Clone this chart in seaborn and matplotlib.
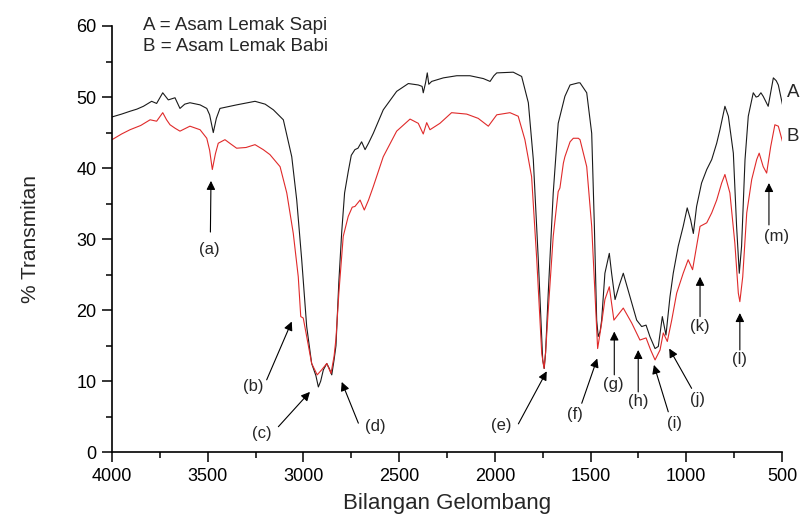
import numpy as np
import pandas as pd
import matplotlib
matplotlib.use("Agg")
import matplotlib.pyplot as plt
from matplotlib.ticker import MultipleLocator
import seaborn as sns

# ---- data ----
wn_A = [4000, 3950, 3906, 3870, 3836, 3793, 3767, 3735, 3706, 3671, 3645, 3620, 3593, 3540,
        3505, 3490, 3471, 3455, 3436, 3349, 3253, 3200, 3157, 3105, 3061, 3035, 3009, 2983,
        2957, 2935, 2922, 2910, 2896, 2878, 2865, 2852, 2840, 2830, 2815, 2800, 2785, 2766,
        2750, 2731, 2715, 2696, 2678, 2660, 2635, 2583, 2513, 2452, 2400, 2380, 2374, 2362,
        2353, 2345, 2330, 2269, 2199, 2130, 2060, 2025, 2005, 1990, 1904, 1860, 1825, 1799,
        1773, 1750, 1742, 1735, 1721, 1695, 1669, 1634, 1607, 1564, 1555, 1520, 1494, 1480,
        1468, 1460, 1450, 1442, 1425, 1410, 1402, 1390, 1372, 1350, 1329, 1294, 1259, 1233,
        1210, 1190, 1163, 1146, 1125, 1106, 1085, 1068, 1042, 1016, 995, 977, 963, 946, 920,
        893, 867, 841, 824, 798, 780, 754, 737, 723, 711, 693, 676, 650, 635, 624, 610, 598,
        572, 545, 530, 519, 497]
tr_A = [47.2, 47.6, 48.0, 48.3, 48.7, 49.4, 49.1, 50.6, 49.6, 49.9, 48.4, 49.0, 49.2, 48.9,
        48.4, 47.5, 45.0, 47.0, 48.4, 48.9, 49.4, 49.0, 48.2, 46.8, 41.6, 35.5, 27.1, 17.7,
        12.5, 10.8, 9.2, 10.0, 11.6, 12.5, 11.8, 10.9, 13.0, 15.0, 24.0, 31.0, 36.5, 39.5,
        41.8, 42.6, 42.8, 43.7, 42.6, 43.5, 44.9, 48.2, 50.8, 51.9, 51.7, 51.5, 50.6, 52.0,
        53.4, 51.8, 52.2, 52.7, 53.0, 53.0, 52.6, 52.2, 53.0, 53.4, 53.5, 52.9, 49.2, 41.2,
        27.1, 13.0, 11.8, 14.0, 22.4, 36.5, 46.3, 50.1, 51.7, 52.0, 52.0, 50.6, 44.9, 31.8,
        18.6, 16.3, 17.0, 18.6, 25.2, 27.0, 28.0, 25.2, 21.5, 23.5, 25.2, 21.9, 18.6, 17.7,
        17.9, 16.3, 14.6, 14.9, 19.1, 16.5, 21.9, 25.2, 29.0, 31.8, 34.4, 32.7, 30.8, 34.6, 37.9,
        39.8, 41.2, 43.5, 45.4, 48.7, 47.3, 42.1, 31.8, 25.2, 29.0, 41.2, 47.3, 50.6, 50.0, 50.1, 50.6, 50.1,
        48.7, 52.7, 52.3, 51.7, 48.9]

wn_B = [4000, 3950, 3906, 3850, 3801, 3767, 3735, 3715, 3697, 3670, 3645, 3593, 3540, 3505,
        3490, 3476, 3460, 3445, 3410, 3380, 3349, 3300, 3253, 3210, 3175, 3122, 3087, 3053,
        3027, 3014, 3001, 2983, 2957, 2928, 2905, 2878, 2856, 2840, 2830, 2815, 2792, 2766,
        2745, 2731, 2704, 2682, 2660, 2635, 2583, 2513, 2443, 2400, 2374, 2356, 2339, 2287,
        2226, 2147, 2087, 2034, 1990, 1921, 1878, 1843, 1808, 1781, 1755, 1743, 1735, 1721,
        1695, 1669, 1660, 1642, 1634, 1607, 1590, 1564, 1555, 1520, 1494, 1477, 1463, 1442,
        1425, 1402, 1378, 1329, 1285, 1242, 1210, 1186, 1163, 1137, 1120, 1099, 1076, 1050,
        1016, 990, 967, 946, 928, 893, 867, 841, 815, 798, 772, 746, 728, 720, 705, 684, 658,
        632, 619, 598, 580, 559, 537, 519, 497]
tr_B = [44.0, 44.8, 45.4, 46.0, 46.8, 46.6, 47.8, 46.8, 46.1, 45.6, 45.2, 45.9, 45.4, 44.2,
        42.5, 39.8, 42.0, 43.5, 44.0, 43.4, 42.8, 42.9, 43.3, 42.6, 41.9, 40.2, 36.5, 30.8,
        24.7, 19.1, 18.9, 16.3, 12.5, 10.9, 11.6, 12.5, 11.1, 13.5, 16.0, 22.4, 30.4, 33.2,
        34.5, 34.6, 35.5, 34.1, 35.5, 37.4, 41.6, 45.2, 46.9, 46.3, 44.8, 46.4, 45.4, 46.3,
        47.8, 47.6, 47.0, 45.9, 47.5, 47.8, 47.3, 44.0, 38.8, 27.1, 13.9, 11.8, 14.0, 20.0,
        30.4, 36.7, 37.2, 40.7, 41.6, 43.7, 44.2, 44.2, 44.0, 40.2, 31.8, 22.4, 14.6, 18.2,
        21.5, 23.3, 18.6, 20.3, 18.2, 15.8, 16.1, 14.4, 13.0, 14.4, 16.8, 15.6, 18.6, 22.4,
        25.2, 27.1, 25.7, 29.0, 31.8, 32.3, 33.7, 35.5, 37.9, 39.1, 36.5, 29.4, 22.4, 21.2, 24.7, 33.7, 38.4,
        41.2, 42.1, 40.2, 39.3, 43.0, 46.1, 45.9, 43.7]

series_names = ["A", "B"]
legend_lines = ["A = Asam Lemak Sapi", "B = Asam Lemak Babi"]

peak_labels = ["(a)", "(b)", "(c)", "(d)", "(e)", "(f)", "(g)", "(h)", "(i)", "(j)", "(k)", "(l)", "(m)"]
tip_x  = [3483, 3061, 2966, 2800, 1729, 1465, 1376, 1251, 1169, 1089, 928, 720, 568]
tip_y  = [38.2, 18.4, 8.5, 9.9, 11.4, 13.2, 17.0, 14.4, 12.3, 14.6, 24.7, 19.6, 37.9]
tail_x = [3486, 3192, 3131, 2713, 1877, 1546, 1376, 1251, 1094, 972, 928, 720, 568]
tail_y = [31.0, 10.2, 3.6, 4.1, 4.0, 6.9, 10.9, 8.5, 5.7, 9.0, 19.1, 14.4, 32.0]
text_x = [3490, 3262, 3218, 2626, 1964, 1581, 1381, 1251, 1063, 940, 930, 720, 528]
text_y = [28.6, 9.2, 2.7, 3.6, 3.8, 5.3, 9.5, 7.1, 4.1, 7.4, 17.7, 13.0, 30.4]

df = pd.concat([
    pd.DataFrame({"wn": wn_A, "tr": tr_A, "s": "A"}),
    pd.DataFrame({"wn": wn_B, "tr": tr_B, "s": "B"}),
])

sns.set_style("ticks")
plt.rcParams["font.family"] = ["Liberation Sans", "DejaVu Sans"]

fig = plt.figure(figsize=(8.03, 5.2), dpi=100)
ax = fig.add_axes([0.1395, 0.1302, 0.8343, 0.8198])

sns.lineplot(data=df, x="wn", y="tr", hue="s", palette={"A": "#1a1a1a", "B": "#e02a2a"},
             linewidth=0.8, legend=False, ax=ax, sort=False, estimator=None)

ax.set_xlim(4000, 500)
ax.set_ylim(0, 60)
ax.xaxis.set_major_locator(MultipleLocator(500))
ax.xaxis.set_minor_locator(MultipleLocator(250))
ax.yaxis.set_major_locator(MultipleLocator(10))
ax.yaxis.set_minor_locator(MultipleLocator(5))
ax.tick_params(which="major", length=7, width=1.1, direction="out", labelsize=13, colors="black", pad=4)
ax.tick_params(which="minor", length=4, width=1.1, direction="out", colors="black")
for side in ["top", "right"]:
    ax.spines[side].set_visible(False)
for side in ["left", "bottom"]:
    ax.spines[side].set_linewidth(1.2)
    ax.spines[side].set_color("black")

ax.set_xlabel("Bilangan Gelombang", fontsize=16, labelpad=6)
ax.set_ylabel("% Transmitan", fontsize=15, labelpad=26)

for i, (lab, txt) in enumerate(zip(series_names, legend_lines)):
    ax.text(3838, 60.1 - i * 3.0, txt, fontsize=13.5, ha="left", va="center", clip_on=False)

ax.text(474, 50.6, "A", fontsize=13.5, ha="left", va="center", clip_on=False)
ax.text(474, 44.4, "B", fontsize=13.5, ha="left", va="center", clip_on=False)

for lab, tx, ty, sx, sy, lx, ly in zip(peak_labels, tip_x, tip_y, tail_x, tail_y, text_x, text_y):
    ax.annotate("", xy=(tx, ty), xytext=(sx, sy),
                arrowprops=dict(arrowstyle="-|>", color="black", lw=0.8, mutation_scale=13,
                                shrinkA=0, shrinkB=0))
    ax.text(lx, ly, lab, fontsize=12, ha="center", va="center")

fig.savefig("out.png", dpi=100)
